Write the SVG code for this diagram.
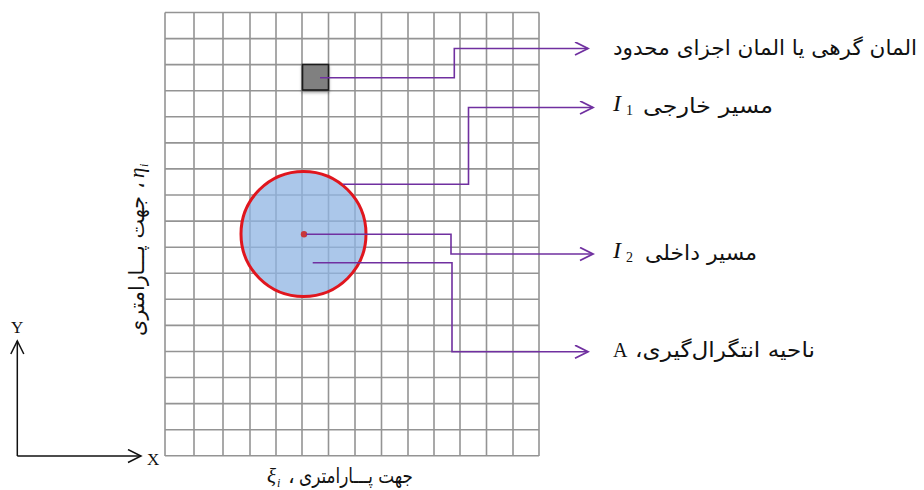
<svg xmlns="http://www.w3.org/2000/svg" width="924" height="490" viewBox="0 0 924 490">
<style>
.grid line{stroke:#949494;stroke-width:1.6}
.conn{fill:none;stroke:#7030A0;stroke-width:1.6}
.fa{font-family:"DejaVu Sans",sans-serif;font-size:21px;fill:#111}
.mi{font-family:"Liberation Serif",serif;font-style:italic;fill:#111}
.rm{font-family:"Liberation Serif",serif;fill:#111}
.ax{fill:none;stroke:#111;stroke-width:1.5}
</style>
<defs>
<marker id="pa" markerWidth="16" markerHeight="16" refX="14" refY="7" orient="auto" markerUnits="userSpaceOnUse">
<path d="M1,0.5 L14,7 L1,13.5" fill="none" stroke="#7030A0" stroke-width="1.8"/>
</marker>
<marker id="ka" markerWidth="16" markerHeight="16" refX="14" refY="7" orient="auto" markerUnits="userSpaceOnUse">
<path d="M1,0.5 L14,7 L1,13.5" fill="none" stroke="#111" stroke-width="1.5"/>
</marker>
<filter id="sh" x="-20%" y="-20%" width="140%" height="160%">
<feDropShadow dx="0" dy="2" stdDeviation="1.5" flood-color="#000" flood-opacity="0.35"/>
</filter>
</defs>
<rect width="924" height="490" fill="#fff"/>
<g id="grid" class="grid">
<line x1="165" y1="12.5" x2="165" y2="456"/>
<line x1="194" y1="12.5" x2="194" y2="456"/>
<line x1="223" y1="12.5" x2="223" y2="456"/>
<line x1="250" y1="12.5" x2="250" y2="456"/>
<line x1="276" y1="12.5" x2="276" y2="456"/>
<line x1="302" y1="12.5" x2="302" y2="456"/>
<line x1="328.5" y1="12.5" x2="328.5" y2="456"/>
<line x1="355" y1="12.5" x2="355" y2="456"/>
<line x1="381.5" y1="12.5" x2="381.5" y2="456"/>
<line x1="408" y1="12.5" x2="408" y2="456"/>
<line x1="434" y1="12.5" x2="434" y2="456"/>
<line x1="460" y1="12.5" x2="460" y2="456"/>
<line x1="486.5" y1="12.5" x2="486.5" y2="456"/>
<line x1="513" y1="12.5" x2="513" y2="456"/>
<line x1="539" y1="12.5" x2="539" y2="456"/>
<line x1="165" y1="12.5" x2="539" y2="12.5"/>
<line x1="165" y1="38.6" x2="539" y2="38.6"/>
<line x1="165" y1="64.6" x2="539" y2="64.6"/>
<line x1="165" y1="90.7" x2="539" y2="90.7"/>
<line x1="165" y1="116.8" x2="539" y2="116.8"/>
<line x1="165" y1="142.9" x2="539" y2="142.9"/>
<line x1="165" y1="168.9" x2="539" y2="168.9"/>
<line x1="165" y1="195" x2="539" y2="195"/>
<line x1="165" y1="221.1" x2="539" y2="221.1"/>
<line x1="165" y1="247.2" x2="539" y2="247.2"/>
<line x1="165" y1="273.2" x2="539" y2="273.2"/>
<line x1="165" y1="299.3" x2="539" y2="299.3"/>
<line x1="165" y1="325.4" x2="539" y2="325.4"/>
<line x1="165" y1="351.5" x2="539" y2="351.5"/>
<line x1="165" y1="377.5" x2="539" y2="377.5"/>
<line x1="165" y1="403.6" x2="539" y2="403.6"/>
<line x1="165" y1="429.7" x2="539" y2="429.7"/>
<line x1="165" y1="455.8" x2="539" y2="455.8"/>
</g>
<g id="region-A">
<circle cx="303.5" cy="234" r="62.5" fill="#8FB4E3" fill-opacity="0.75" stroke="#E0161E" stroke-width="3"/>
</g>
<g id="cut">
<line x1="165" y1="234.3" x2="303" y2="234.3" stroke="#000" stroke-width="3.5" filter="url(#sh)"/>
<circle cx="304" cy="234.3" r="3.2" fill="#C8383A"/>
</g>
<g id="element">
<rect x="302.5" y="64.5" width="26" height="25.5" fill="#808080" stroke="#1a1a1a" stroke-width="1.6" filter="url(#sh)"/>
</g>
<g id="connectors">
<polyline class="conn" points="320,77.7 454.3,77.7 454.3,48.5 588,48.5" marker-end="url(#pa)"/>
<polyline class="conn" points="343,184.3 468.5,184.3 468.5,107.5 593,107.5" marker-end="url(#pa)"/>
<polyline class="conn" points="306,234.3 451,234.3 451,254 593,254" marker-end="url(#pa)"/>
<polyline class="conn" points="312.7,262.7 452,262.7 452,351.7 588,351.7" marker-end="url(#pa)"/>
</g>
<g id="label-element">
<text class="fa" x="917" y="55" text-anchor="end" textLength="304" lengthAdjust="spacingAndGlyphs">المان گرهی یا المان اجزای محدود</text>
</g>
<g id="label-I1">
<text class="mi" x="613" y="111" font-size="24">I</text>
<text class="rm" x="626" y="115" font-size="14">1</text>
<text class="fa" x="773" y="113" text-anchor="end" textLength="130" lengthAdjust="spacingAndGlyphs">مسیر خارجی</text>
</g>
<g id="label-I2">
<text class="mi" x="613" y="258" font-size="24">I</text>
<text class="rm" x="626" y="262" font-size="14">2</text>
<text class="fa" x="757" y="260" text-anchor="end" textLength="112" lengthAdjust="spacingAndGlyphs">مسیر داخلی</text>
</g>
<g id="label-A">
<text class="rm" x="613" y="357" font-size="20">A</text>
<text class="fa" x="815" y="357" text-anchor="end" textLength="180" lengthAdjust="spacingAndGlyphs">ناحیه انتگرال‌گیری،&#x200F;</text>
</g>
<g id="label-xi">
<text class="mi" x="267" y="483" font-size="21">ξ</text>
<text class="mi" x="277" y="487" font-size="12">i</text>
<text class="fa" x="288" y="483" font-size="18">،</text>
<text class="fa" x="413" y="483" text-anchor="end" font-size="19" textLength="114" lengthAdjust="spacingAndGlyphs">جهت پـــارامتری</text>
</g>
<g id="label-eta" transform="translate(144,336) rotate(-90)">
<text class="fa" x="0" y="0" font-size="19" textLength="140" lengthAdjust="spacingAndGlyphs">جهت پـــارامتری</text>
<text class="fa" x="147" y="0" font-size="19">،</text>
<text class="mi" x="158" y="0" font-size="21">η</text>
<text class="mi" x="169" y="4" font-size="12">i</text>
</g>
<g id="axes">
<line class="ax" x1="17.3" y1="456" x2="17.3" y2="341" marker-end="url(#ka)"/>
<line class="ax" x1="17.3" y1="456" x2="141" y2="456" marker-end="url(#ka)"/>
<text class="rm" x="11" y="333" font-size="17">Y</text>
<text class="rm" x="147" y="465" font-size="17">X</text>
</g>
</svg>
